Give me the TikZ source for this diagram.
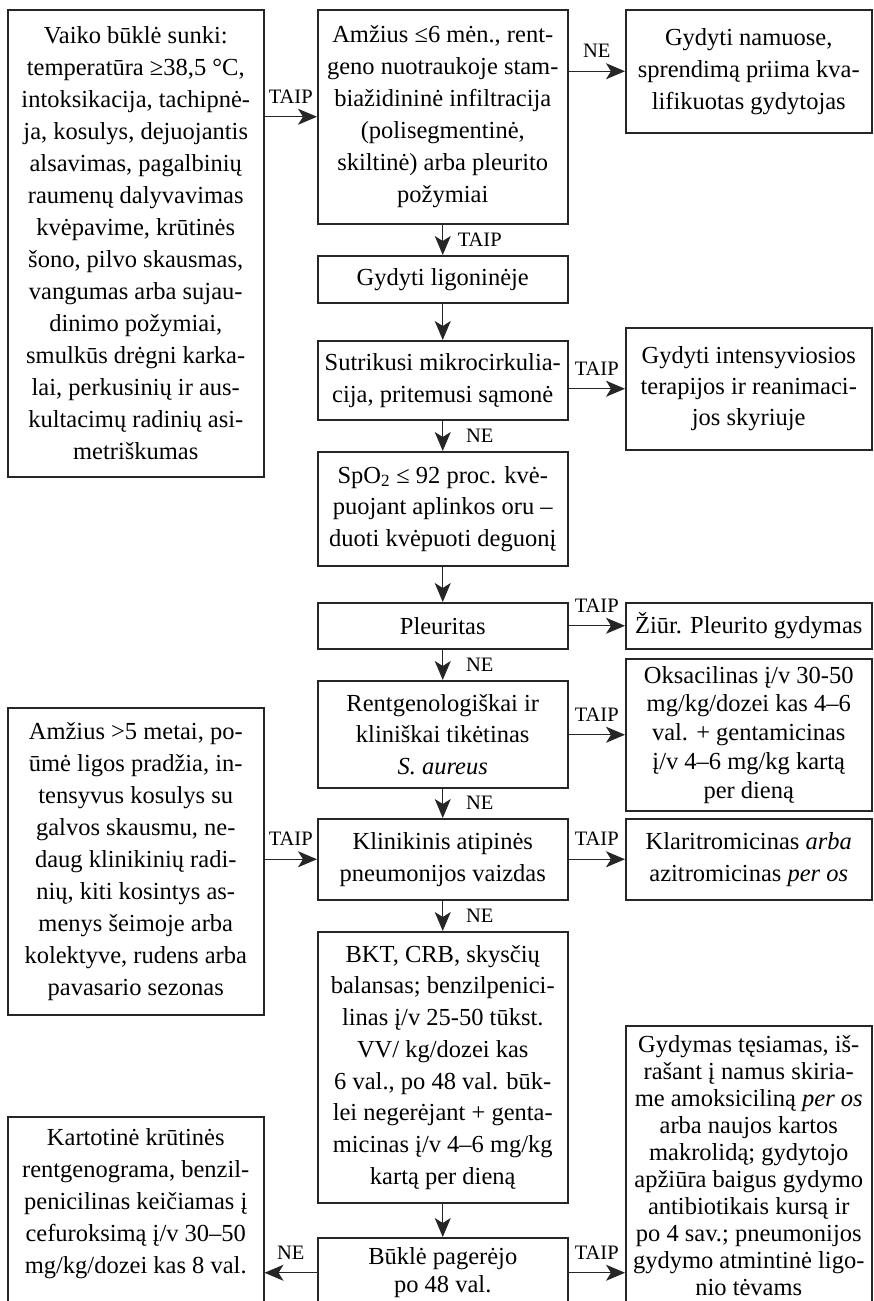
\documentclass[tikz,border=0pt]{standalone}
\usepackage{fontspec}
\setmainfont{Liberation Serif}
\usetikzlibrary{arrows.meta}

\begin{document}
\begin{tikzpicture}[x=1pt,y=-1pt,
    box/.style={draw=black!85, line width=1.5pt, anchor=north west, align=center,
      inner sep=3pt, font=\fontsize{24.5}{32}\selectfont},
    arr/.style={-{Stealth[length=19pt,width=16pt,inset=5pt]}, line width=1.3pt, draw=black!85},
    lbl/.style={font=\fontsize{20.5}{22}\selectfont, inner sep=2pt}]
  \useasboundingbox (0,0) rectangle (873,1301);
  \clip (0,0) rectangle (873,1301);

  % left column
  \node[box, minimum width=256, minimum height=467] (sunki) at (7,9)
    {Vaiko būklė sunki:\\temperatūra ≥38,5 °C,\\intoksikacija, tachipnė-\\ja, kosulys, dejuojantis\\alsavimas, pagalbinių\\raumenų dalyvavimas\\kvėpavime, krūtinės\\šono, pilvo skausmas,\\vangumas arba sujau-\\dinimo požymiai,\\smulkūs drėgni karka-\\lai, perkusinių ir aus-\\kultacimų radinių asi-\\metriškumas};
  \node[box, minimum width=256, minimum height=307] (vyresni) at (7,707)
    {Amžius >5 metai, po-\\ūmė ligos pradžia, in-\\tensyvus kosulys su\\galvos skausmu, ne-\\daug klinikinių radi-\\nių, kiti kosintys as-\\menys šeimoje arba\\kolektyve, rudens arba\\pavasario sezonas};
  \node[box, minimum width=256, inner ysep=12pt] (kartotine) at (7,1116)
    {Kartotinė krūtinės\\rentgenograma, benzil-\\penicilinas keičiamas į\\cefuroksimą į/v 30–50\\mg/kg/dozei kas 8 val.\\[40pt]\mbox{}};

  % middle column
  \node[box, minimum width=250, minimum height=214] (amzius) at (317,9)
    {Amžius ≤6 mėn., rent-\\geno nuotraukoje stam-\\biažidininė infiltracija\\(polisegmentinė,\\skiltinė) arba pleurito\\požymiai};
  \node[box, minimum width=250, minimum height=47] (ligonineje) at (317,255) {Gydyti ligoninėje};
  \node[box, minimum width=250, minimum height=79] (sutrikusi) at (317,340)
    {Sutrikusi mikrocirkulia-\\cija, pritemusi sąmonė};
  \node[box, minimum width=250, minimum height=114, font=\fontsize{24.5}{31.5}\selectfont] (spo) at (317,451)
    {SpO\textsubscript{2} ≤ 92 proc. kvė-\\puojant aplinkos oru –\\duoti kvėpuoti deguonį};
  \node[box, minimum width=250, minimum height=46] (pleuritas) at (317,602) {Pleuritas};
  \node[box, minimum width=250, minimum height=107, font=\fontsize{24.5}{31.5}\selectfont] (rentgen) at (317,680)
    {Rentgenologiškai ir\\kliniškai tikėtinas\\\textit{S. aureus}};
  \node[box, minimum width=250, minimum height=81] (atipine) at (317,818)
    {Klinikinis atipinės\\pneumonijos vaizdas};
  \node[box, minimum width=250, minimum height=271, font=\fontsize{24.5}{31.7}\selectfont] (bkt) at (317,931)
    {BKT, CRB, skysčių\\balansas; benzilpenici-\\linas į/v 25-50 tūkst.\\VV/ kg/dozei kas\\6 val., po 48 val. būk-\\lei negerėjant + genta-\\micinas į/v 4–6 mg/kg\\kartą per dieną};
  \node[box, minimum width=250, minimum height=70, font=\fontsize{24.5}{28}\selectfont] (bukle) at (317,1237)
    {Būklė pagerėjo\\po 48 val.};

  % right column
  \node[box, minimum width=246, minimum height=123] (namuose) at (625,9)
    {Gydyti namuose,\\sprendimą priima kva-\\lifikuotas gydytojas};
  \node[box, minimum width=246, minimum height=122, font=\fontsize{24.5}{31}\selectfont] (intensyvi) at (625,327)
    {Gydyti intensyviosios\\terapijos ir reanimaci-\\jos skyriuje};
  \node[box, minimum width=246, minimum height=46] (ziur) at (625,602) {Žiūr. Pleurito gydymas};
  \node[box, minimum width=246, minimum height=152, font=\fontsize{24.5}{28.7}\selectfont] (oksa) at (625,658)
    {Oksacilinas į/v 30-50\\mg/kg/dozei kas 4–6\\val. + gentamicinas\\į/v 4–6 mg/kg kartą\\per dieną};
  \node[box, minimum width=246, minimum height=81] (klaritro) at (625,818)
    {Klaritromicinas \textit{arba}\\azitromicinas \textit{per os}};
  \node[box, minimum width=246, inner ysep=10pt, font=\fontsize{24.5}{27}\selectfont] (tesiamas) at (625,1025)
    {Gydymas tęsiamas, iš-\\rašant į namus skiria-\\me amoksiciliną \textit{per os}\\arba naujos kartos\\makrolidą; gydytojo\\apžiūra baigus gydymo\\antibiotikais kursą ir\\po 4 sav.; pneumonijos\\gydymo atmintinė ligo-\\nio tėvams\\[30pt]\mbox{}};

  % vertical arrows
  \foreach \a/\b in {ligonineje/sutrikusi,spo/pleuritas,bkt/bukle}{\draw[arr] (\a) -- (\b);}
  \foreach \a/\b/\t in {amzius/ligonineje/TAIP,sutrikusi/spo/NE,pleuritas/rentgen/NE,rentgen/atipine/NE,atipine/bkt/NE}
    {\draw[arr] (\a) -- node[lbl, xshift=37pt] {\t} (\b);}

  % horizontal arrows
  \draw[arr] (sunki.east |- amzius.west) -- node[lbl, above=11pt] {TAIP} (amzius.west);
  \draw[arr] (amzius.east |- namuose.west) -- node[lbl, above=11pt] {NE} (namuose.west);
  \draw[arr] (sutrikusi.east |- intensyvi.west) -- node[lbl, above=11pt] {TAIP} (intensyvi.west);
  \draw[arr] (pleuritas.east) -- node[lbl, above=11pt] {TAIP} (ziur.west);
  \draw[arr] (rentgen.east |- oksa.west) -- node[lbl, above=11pt] {TAIP} (oksa.west);
  \draw[arr] (atipine.east) -- node[lbl, above=11pt] {TAIP} (klaritro.west);
  \draw[arr] (vyresni.east |- atipine.west) -- node[lbl, above=11pt] {TAIP} (atipine.west);
  \draw[arr] (bukle.west) -- node[lbl, above=11pt] {NE} (bukle.west -| kartotine.east);
  \draw[arr] (bukle.east) -- node[lbl, above=11pt] {TAIP} (bukle.east -| tesiamas.west);
\end{tikzpicture}
\end{document}
